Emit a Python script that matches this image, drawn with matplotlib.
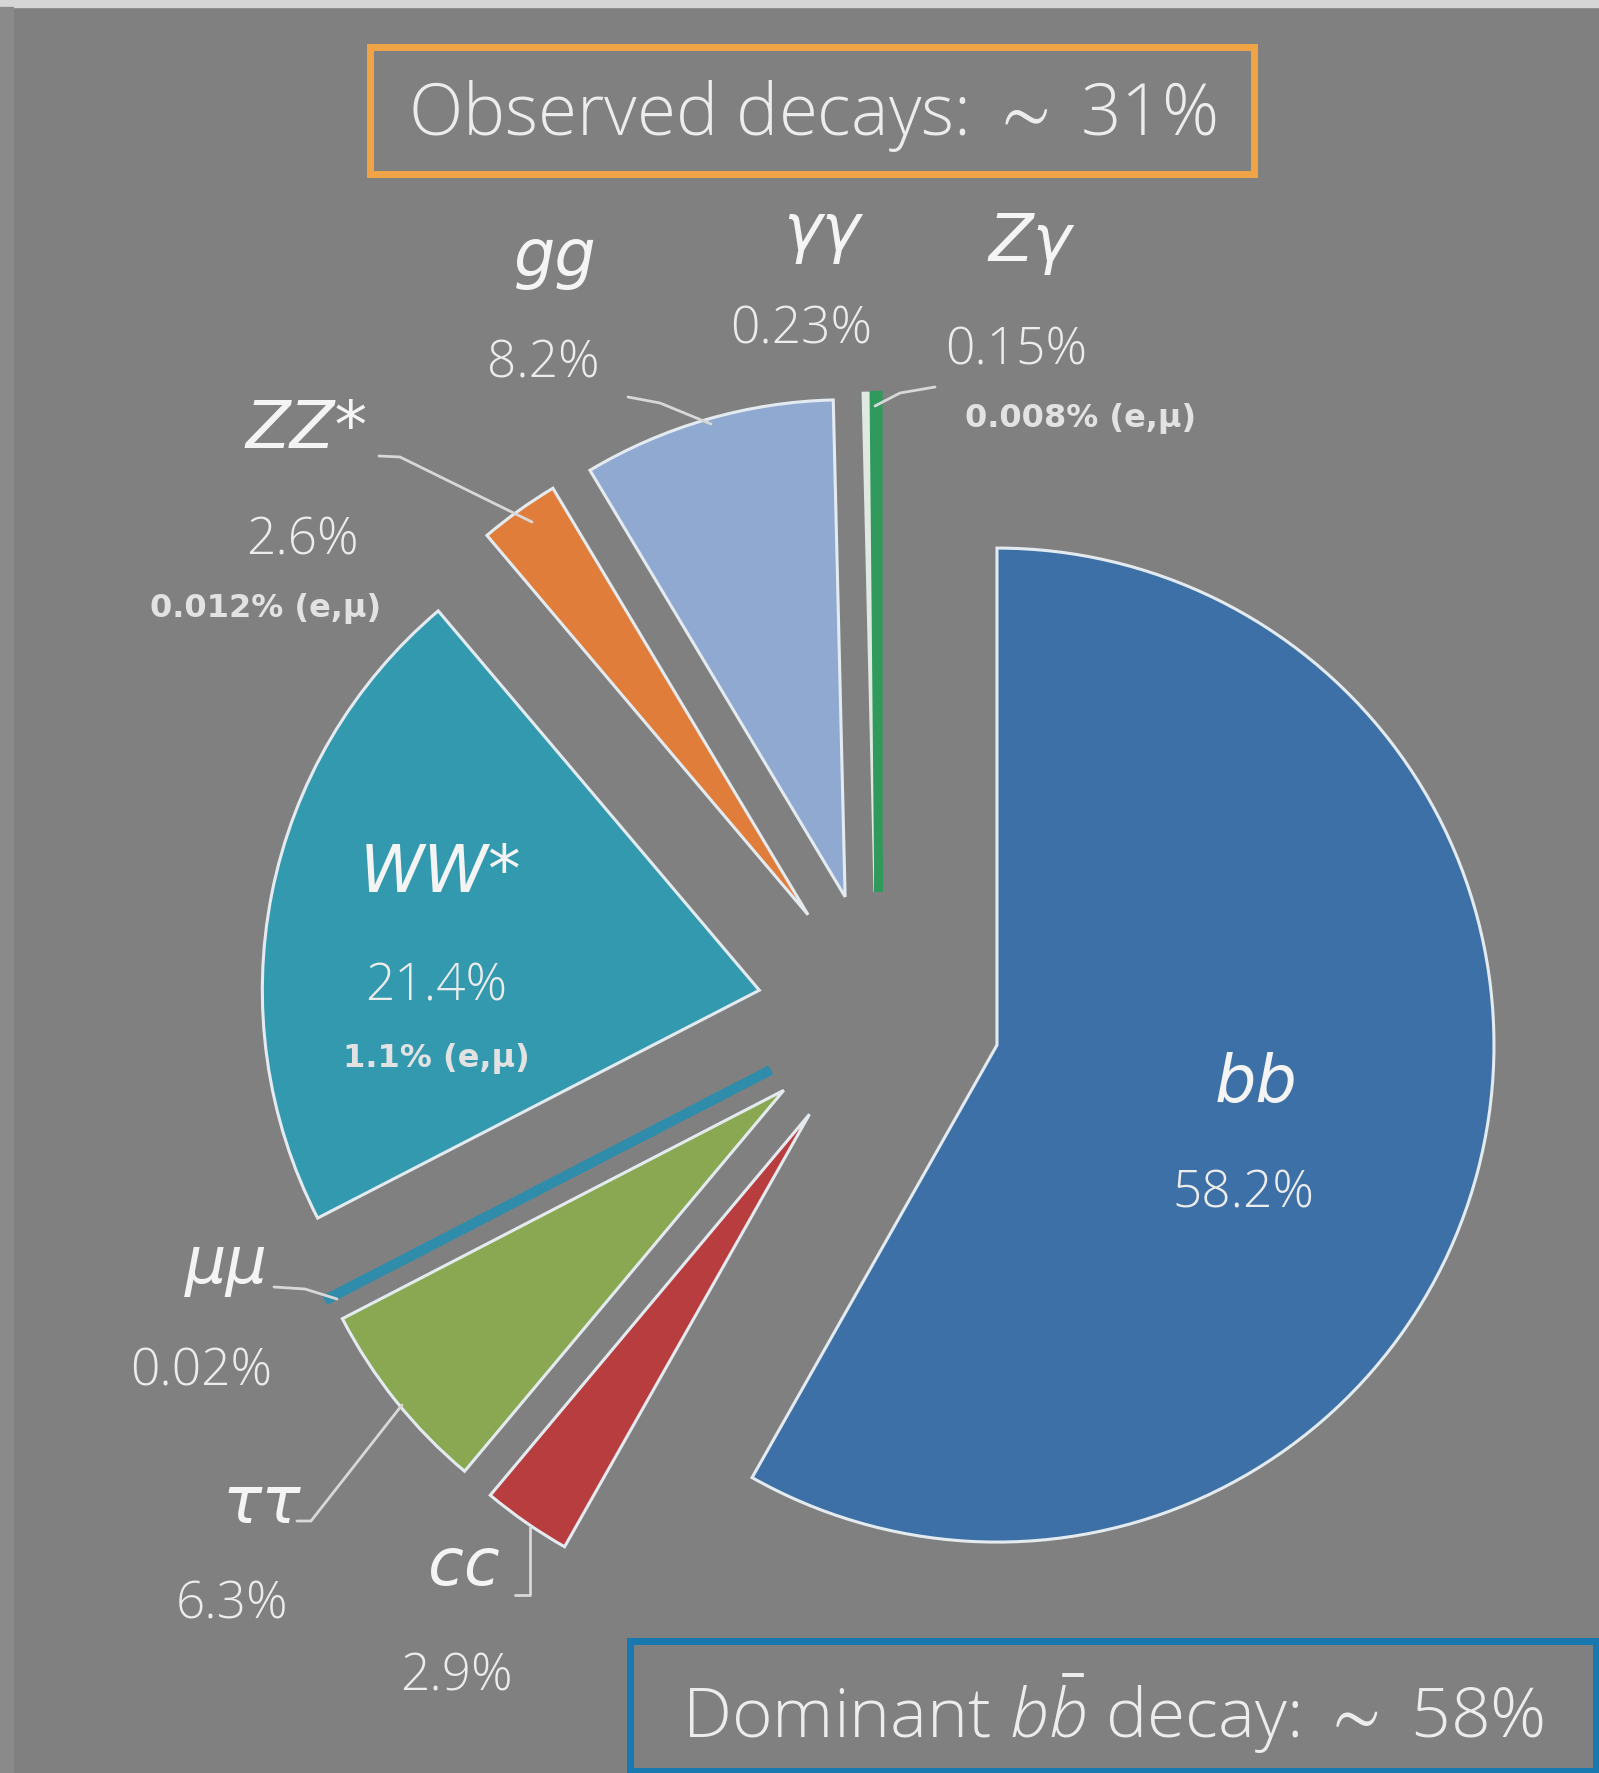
import numpy as np
import matplotlib
matplotlib.use('Agg')
import matplotlib.pyplot as plt
from matplotlib.patches import Rectangle

plt.rcParams['mathtext.fontset'] = 'custom'
plt.rcParams['mathtext.rm'] = 'Open Sans:light'
plt.rcParams['mathtext.it'] = 'Open Sans:italic:light'
plt.rcParams['mathtext.fallback'] = 'stixsans'

# Higgs boson decay branching ratios, clockwise from 12 o'clock
channels = ['bb', 'cc', 'ττ', 'μμ', 'WW*', 'ZZ*', 'gg', 'γγ', 'Zγ']
shares = [58.2, 2.9, 6.3, 0.02, 21.4, 2.6, 8.2, 0.23, 0.15]
lepton_shares = ['', '', '', '', '1.1% (e,μ)', '0.012% (e,μ)', '', '', '0.008% (e,μ)']
colors = ['#3d70a6', '#b83d3f', '#8aa851', '#2f8cab', '#3399ae',
          '#e07d3b', '#8fa9d1', '#dfe9e2', '#2f9a5c']

observed_text = r'Observed decays: $\sim$ 31%'
dominant_text = r'Dominant $b\bar{b}$ decay: $\sim$ 58%'

W, H = 1599, 1774
BG = '#808080'
TXT = '#ececec'


def img(x, y):
    # picture coords (y down) -> axes data coords
    return x, H - y


fig = plt.figure(figsize=(W / 100, H / 100), dpi=100)
fig.patch.set_facecolor(BG)
ax = fig.add_axes([0, 0, 1, 1])
ax.set_facecolor(BG)

R = 497
cx, cy = img(879, 1015)
# pie explode is an absolute offset in data units here
wedges, _ = ax.pie(shares, colors=colors, startangle=90, counterclock=False,
                   explode=[122] * len(shares), radius=R, center=(cx, cy),
                   frame=True,
                   wedgeprops=dict(edgecolor='#e4ebf0', linewidth=2.2))
# hairline slices get a thick outline in their own colour so they stay visible
for i, lw in [(3, 7), (7, 5), (8, 6)]:
    wedges[i].set_edgecolor(colors[i])
    wedges[i].set_linewidth(lw)

ax.set_xlim(0, W)
ax.set_ylim(0, H)
ax.set_aspect('equal')
ax.axis('off')

# light strips along the top and left border
fig.patches.append(Rectangle((0, 1 - 8 / H), 1, 8 / H, transform=fig.transFigure,
                             color='#d6d6d6', zorder=0))
fig.patches.append(Rectangle((0, 0), 13 / W, 1 - 8 / H, transform=fig.transFigure,
                             color='#8a8a8a', zorder=0))

# label layout: (name position, percent position, lepton position)
name_pos = [(1256, 1084), (464, 1567), (262, 1505), (226, 1265), (441, 874),
            (306, 430), (555, 258), (822, 232), (1030, 243)]
pct_pos = [(1243, 1194), (456, 1677), (232, 1605), (201, 1372), (436, 987),
           (302, 541), (543, 364), (801, 330), (1016, 351)]
lep_pos = [None, None, None, None, (436, 1058), (266, 608), None, None, (1081, 419)]

name_font = dict(family='DejaVu Sans', style='italic', fontsize=47, color='#f4f4f4')
pct_font = dict(family='Open Sans', fontweight='light', fontsize=37, color=TXT)
lep_font = dict(family='DejaVu Sans', fontweight='bold', fontsize=23, color='#e2e2e2')

for i, name in enumerate(channels):
    ax.text(*img(*name_pos[i]), name, ha='center', va='center', **name_font)
    ax.text(*img(*pct_pos[i]), f'{shares[i]:g}%', ha='center', va='center', **pct_font)
    if lep_pos[i] is not None:
        ax.text(*img(*lep_pos[i]), lepton_shares[i], ha='center', va='center', **lep_font)

# leader lines from outside labels to their wedges
leaders = [
    [(628, 398), (660, 404), (711, 425)],          # gg
    [(379, 457), (400, 458), (532, 523)],          # ZZ*
    [(935, 388), (900, 394), (875, 407)],          # Zgamma
    [(274, 1288), (305, 1290), (337, 1300)],       # mumu
    [(297, 1522), (311, 1522), (402, 1406)],       # tautau
    [(515, 1596), (530, 1596), (530, 1528)],       # cc
]
for pts in leaders:
    xs, ys = zip(*[img(x, y) for x, y in pts])
    ax.plot(xs, ys, color='#d8d8d8', lw=2, solid_capstyle='round')

# summary boxes
ax.add_patch(Rectangle(img(370, 175), 884, 127, fill=False,
                       edgecolor='#f0a446', linewidth=5))
ax.text(*img(812, 116), observed_text, ha='center', va='center',
        family='Open Sans', fontweight='light', fontsize=51, color=TXT)

ax.add_patch(Rectangle(img(630, 1772), 966, 130, fill=False,
                       edgecolor='#1779b0', linewidth=5))
ax.text(*img(1113, 1714), dominant_text, ha='center', va='center',
        family='Open Sans', fontweight='light', fontsize=50, color=TXT)

fig.savefig('out.png', dpi=100, facecolor=BG)
